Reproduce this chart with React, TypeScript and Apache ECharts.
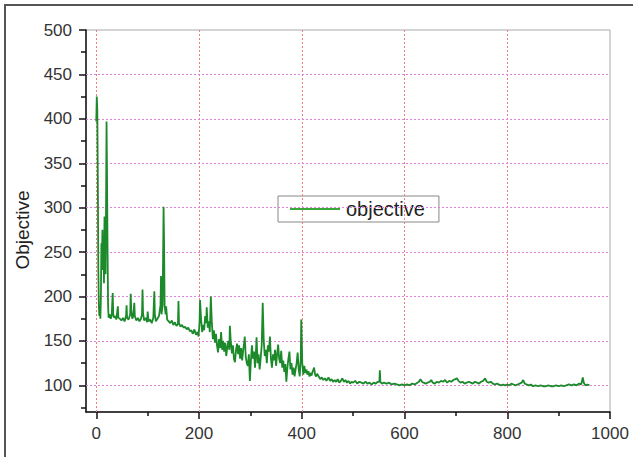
import React, { useEffect, useRef } from 'react';
import * as echarts from 'echarts';

// [iteration, objective]
const phaseEarly: [number, number][] = [
  [0, 397], [1, 425], [2, 410], [3, 330], [4, 230], [5, 190], [6, 178], [7, 185], [8, 175], [9, 200],
  [10, 260], [11, 245], [12, 275], [13, 230], [14, 262], [15, 215], [16, 290], [17, 240], [18, 225], [19, 300],
  [20, 397], [21, 330], [22, 250], [23, 190], [24, 176], [26, 180], [28, 175], [30, 178], [32, 204], [33, 180],
  [35, 176], [37, 178], [39, 174], [42, 189], [43, 176], [46, 175], [49, 173], [52, 176], [55, 172], [58, 178],
  [59, 190], [60, 176], [63, 174], [66, 180], [67, 203], [68, 185], [70, 175], [72, 178], [74, 193], [75, 178],
  [78, 173], [81, 176], [84, 172], [87, 175], [89, 180], [90, 208], [91, 182], [93, 173], [96, 176], [99, 171],
  [100, 183], [102, 172], [105, 174], [108, 170], [111, 176], [113, 206], [114, 180], [116, 172], [119, 175], [122, 178],
  [125, 190], [126, 223], [127, 180], [129, 190], [130, 240], [131, 301], [132, 260], [133, 190], [135, 180], [136, 189],
  [138, 174], [141, 172], [144, 170], [147, 173], [150, 168], [153, 171], [156, 167], [159, 169], [160, 195], [161, 170],
  [164, 166], [167, 168], [170, 165], [173, 166], [176, 163], [179, 165], [182, 161], [185, 162], [188, 158], [191, 163],
  [194, 157], [197, 160], [199, 155],
];

const phaseMiddle: [number, number][] = [
  [201, 170], [202, 196], [204, 175], [206, 160], [208, 168], [210, 162], [212, 178], [214, 170], [215, 188], [217, 165],
  [219, 172], [221, 160], [223, 200], [225, 170], [227, 152], [229, 162], [231, 148], [233, 158], [235, 145], [237, 137],
  [239, 152], [241, 142], [243, 160], [245, 140], [247, 150], [249, 138], [251, 148], [253, 133], [255, 143], [257, 150],
  [259, 140], [260, 167], [262, 148], [264, 136], [266, 145], [268, 130], [270, 126], [272, 140], [274, 147], [276, 135],
  [278, 145], [280, 130], [282, 142], [284, 128], [286, 140], [288, 148], [289, 155], [291, 132], [293, 125], [295, 122],
  [297, 135], [299, 105], [301, 128], [303, 145], [305, 130], [307, 138], [309, 120], [311, 140], [312, 154], [314, 125],
  [316, 135], [318, 118], [320, 130], [322, 145], [324, 193], [326, 150], [328, 133], [330, 140], [332, 125], [334, 145],
  [336, 138], [338, 155], [340, 130], [342, 120], [344, 135], [346, 128], [348, 140], [350, 122], [352, 135], [354, 146],
  [356, 130], [358, 125], [360, 139], [362, 120], [364, 128], [366, 115], [368, 124], [370, 104], [372, 120], [374, 130],
  [376, 138], [378, 118], [380, 125], [382, 112], [384, 120], [386, 110], [388, 118], [390, 125], [392, 137], [394, 118],
  [396, 110], [398, 130], [399, 174], [400, 150], [401, 125], [403, 112],
];

const phaseLate: [number, number][] = [
  [405, 122], [407, 114], [409, 118], [411, 112], [413, 116], [415, 110], [417, 114], [419, 111], [421, 115], [424, 120],
  [426, 112], [428, 110], [430, 113], [433, 110], [436, 107], [439, 109], [442, 106], [445, 108], [448, 105], [452, 109],
  [455, 105], [458, 107], [461, 104], [464, 106], [467, 104], [470, 107], [473, 103], [476, 105], [479, 108], [482, 104],
  [485, 106], [488, 103], [491, 105], [494, 102], [497, 104], [500, 103], [504, 105], [508, 102], [512, 104], [516, 103],
  [520, 102], [524, 104], [528, 102], [532, 103], [536, 101], [540, 103], [544, 102], [548, 104], [551, 104], [552, 117],
  [553, 104], [556, 102], [560, 103], [565, 102], [570, 103], [575, 101], [580, 102], [585, 101], [590, 100], [595, 101],
  [600, 100], [605, 101], [610, 100], [615, 102], [620, 101], [625, 103], [628, 104], [631, 107], [634, 104], [637, 103],
  [641, 102], [645, 103], [649, 104], [652, 106], [655, 103], [659, 102], [663, 104], [667, 103], [671, 105], [675, 104],
  [679, 106], [683, 103], [687, 105], [691, 104], [695, 106], [699, 107], [702, 108], [705, 105], [709, 103], [713, 104],
  [717, 102], [721, 103], [725, 104], [729, 103], [733, 102], [737, 104], [741, 103], [745, 102], [749, 104], [753, 105],
  [757, 108], [760, 104], [764, 103], [768, 104], [772, 102], [776, 101], [780, 102], [784, 101], [788, 100], [792, 101],
  [796, 100], [800, 101], [804, 100], [808, 102], [812, 101], [816, 100], [820, 101], [824, 102], [828, 103], [831, 106],
  [834, 102], [838, 101], [842, 100], [846, 101], [850, 99], [855, 100], [860, 99], [865, 100], [870, 99], [875, 99],
  [880, 100], [885, 99], [890, 99], [895, 100], [900, 99], [905, 100], [910, 99], [915, 100], [920, 101], [925, 100],
  [930, 101], [935, 100], [940, 102], [944, 101], [947, 109], [949, 103], [952, 100], [956, 101], [960, 100],
];

const xMajorTicks = [0, 200, 400, 600, 800, 1000];
const xMinorTicks = [100, 300, 500, 700, 900];
const yMajorTicks = [100, 150, 200, 250, 300, 350, 400, 450, 500];
const yMinorTicks = [75, 125, 175, 225, 275, 325, 375, 425, 475];
const xGridValues = [0, 200, 400, 600, 800];
const yGridValues = [100, 150, 200, 250, 300, 350, 400, 450];
const seriesName = 'objective';
const yAxisTitle = 'Objective';

const X_MIN = -20;
const X_MAX = 1000;
const Y_MIN = 70;
const Y_MAX = 500;

const FONT = 'Liberation Sans, Arial, sans-serif';
const LINE_COLOR = '#1c8a2b';
const V_GRID = '#f07c7c';
const H_GRID = '#dc82dc';

export default function App() {
  const ref = useRef<HTMLDivElement>(null);
  useEffect(() => {
    const chart = echarts.init(ref.current!, null, { renderer: 'svg' });
    const data = [...phaseEarly, ...phaseMiddle, ...phaseLate];
    const gridLines = [
      ...xGridValues.map((v) => ({ xAxis: v, lineStyle: { color: V_GRID, type: [2, 2], width: 1 } })),
      ...yGridValues.map((v) => ({ yAxis: v, lineStyle: { color: H_GRID, type: [2, 2], width: 1 } })),
    ];
    chart.setOption({
      animation: false,
      backgroundColor: '#fff',
      graphic: [
        {
          type: 'rect',
          silent: true,
          shape: { x: 5, y: 5, width: 800, height: 600 },
          style: { fill: 'none', stroke: '#555', lineWidth: 2 },
          z: 100,
        },
      ],
      grid: {
        left: 86,
        top: 30,
        right: 23,
        bottom: 45,
        show: true,
        borderColor: '#aaa',
        borderWidth: 1,
        backgroundColor: '#fff',
        containLabel: false,
        outerBoundsMode: 'none',
      },
      legend: {
        left: 278,
        top: 196,
        orient: 'horizontal',
        borderColor: '#888',
        borderWidth: 1,
        backgroundColor: '#fff',
        padding: [3, 14, 3, 12],
        itemWidth: 50,
        itemHeight: 2,
        itemGap: 0,
        icon: 'rect',
        textStyle: { fontSize: 20, color: '#222', fontFamily: FONT, padding: [0, 0, 0, 1] },
        data: [{ name: seriesName, icon: 'rect', itemStyle: { color: '#3aa83a' } }],
      },
      xAxis: [
        {
          type: 'value',
          min: X_MIN,
          max: X_MAX,
          position: 'bottom',
          axisLine: { show: true, onZero: false, lineStyle: { color: '#111', width: 1.5 } },
          axisTick: { show: true, customValues: xMajorTicks, length: 7, lineStyle: { color: '#111', width: 1.5 } },
          axisLabel: {
            show: true,
            customValues: xMajorTicks,
            formatter: (v: number) => String(v),
            margin: 13,
            fontSize: 17,
            color: '#333',
            fontFamily: FONT,
          },
          splitLine: { show: false },
        },
        {
          type: 'value',
          min: X_MIN,
          max: X_MAX,
          position: 'top',
          offset: -382,
          axisLine: { show: false, onZero: false },
          axisTick: { show: true, inside: true, customValues: xMinorTicks, length: 4, lineStyle: { color: '#111', width: 1.5 } },
          axisLabel: { show: false },
          splitLine: { show: false },
        },
      ],
      yAxis: [
        {
          type: 'value',
          min: Y_MIN,
          max: Y_MAX,
          position: 'left',
          name: yAxisTitle,
          nameLocation: 'middle',
          nameGap: 54,
          nameTextStyle: { fontSize: 19, color: '#222', fontFamily: FONT, padding: [0, 0, 0, -18] },
          axisLine: { show: true, onZero: false, lineStyle: { color: '#111', width: 1.5 } },
          axisTick: { show: true, customValues: yMajorTicks, length: 7, lineStyle: { color: '#111', width: 1.5 } },
          axisLabel: {
            show: true,
            customValues: yMajorTicks,
            formatter: (v: number) => String(v),
            margin: 14,
            fontSize: 17,
            color: '#333',
            fontFamily: FONT,
          },
          splitLine: { show: false },
        },
        {
          type: 'value',
          min: Y_MIN,
          max: Y_MAX,
          position: 'right',
          offset: -524,
          axisLine: { show: false, onZero: false },
          axisTick: { show: true, inside: true, customValues: yMinorTicks, length: 5, lineStyle: { color: '#111', width: 1.5 } },
          axisLabel: { show: false },
          splitLine: { show: false },
        },
      ],
      series: [
        {
          name: 'grid-lines',
          type: 'line',
          xAxisIndex: 0,
          yAxisIndex: 0,
          data: [],
          silent: true,
          z: 1,
          markLine: {
            silent: true,
            symbol: ['none', 'none'],
            label: { show: false },
            emphasis: { disabled: true },
            animation: false,
            data: gridLines,
          },
        },
        {
          name: seriesName,
          type: 'line',
          xAxisIndex: 0,
          yAxisIndex: 0,
          data,
          symbol: 'none',
          showSymbol: false,
          lineStyle: { color: LINE_COLOR, width: 1.8 },
          itemStyle: { color: LINE_COLOR },
          z: 5,
        },
      ],
    });
    return () => chart.dispose();
  }, []);
  return (
    <div
      ref={ref}
      style={{ position: 'fixed', left: 0, top: 0, width: 633, height: 457, background: '#fff' }}
    />
  );
}
